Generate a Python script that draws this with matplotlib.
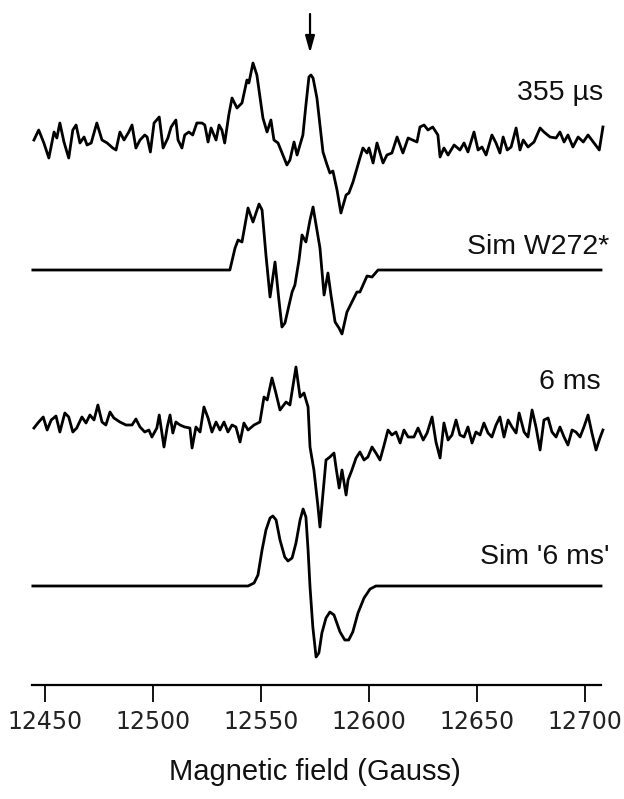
import matplotlib
matplotlib.use("Agg")
import matplotlib.pyplot as plt

# --- data (field in Gauss, intensity in arbitrary units) ---
field_355us = [12444.9, 12447.1, 12449.5, 12451.8, 12454.2, 12455.5, 12456.9, 12458.8, 12461.0, 12462.9,
               12464.4, 12466.2, 12468.1, 12469.5, 12471.4, 12474.0, 12476.4, 12478.8, 12481.4, 12482.9,
               12484.7, 12486.6, 12488.8, 12490.3, 12492.1, 12494.0, 12496.2, 12497.3, 12498.8, 12500.5,
               12502.9, 12504.7, 12506.9, 12508.4, 12510.6, 12511.6, 12513.4, 12514.7, 12516.6, 12518.4,
               12520.3, 12522.7, 12524.0, 12525.5, 12526.9, 12529.2, 12530.6, 12531.9, 12533.2, 12535.1,
               12536.6, 12538.9, 12541.2, 12543.5, 12544.4, 12546.3, 12548.1, 12550.9, 12552.8, 12554.6,
               12556.0, 12557.9, 12562.0, 12563.4, 12565.3, 12566.7, 12569.4, 12570.8, 12572.2, 12573.1,
               12574.1, 12575.9, 12577.3, 12578.7, 12580.6, 12581.9, 12583.3, 12585.2, 12587.0, 12589.4,
               12590.7, 12592.6, 12595.8, 12597.2, 12599.1, 12600.0, 12601.9, 12603.7, 12606.5, 12608.3,
               12610.6, 12613.0, 12615.7, 12618.1, 12622.2, 12623.6, 12625.5, 12627.3, 12629.5, 12631.9,
               12632.9, 12634.7, 12636.6, 12639.4, 12642.1, 12644.0, 12645.8, 12648.6, 12650.5, 12652.3,
               12654.2, 12656.9, 12658.8, 12660.6, 12662.1, 12664.0, 12665.8, 12668.1, 12669.9, 12671.4,
               12673.6, 12676.4, 12679.2, 12681.0, 12683.8, 12686.6, 12688.4, 12690.3, 12692.1, 12694.4,
               12696.8, 12699.2, 12701.4, 12704.2, 12706.6, 12708.3]
signal_355us = [0, 10, -3, -18, 8, 2, 17, -2, -18, 10,
                15, -3, 3, -5, -3, 17, 0, -3, -8, -10,
                8, 0, 8, 15, -8, 0, 5, 3, -12, 17,
                23, -8, 2, 13, 20, 0, -8, 5, 8, 5,
                17, 17, 15, -2, 12, 0, 15, 10, -3, 25,
                42, 32, 37, 60, 57, 77, 65, 22, 8, 20,
                0, -3, -25, -20, -2, -15, 5, 35, 63, 65,
                62, 42, 15, -12, -25, -33, -31, -50, -73, -55,
                -53, -42, -18, -8, -13, -8, -23, -3, -23, -15,
                -13, 3, -13, 2, -2, 13, 15, 10, 13, 5,
                -17, -8, -15, -5, -10, -3, -12, 8, -10, -7,
                -15, 5, -3, -13, 3, -10, -7, 12, -10, 0,
                -7, -2, 12, 8, 3, 2, 8, -2, 5, -7,
                3, -2, 5, -3, -10, 13]

field_sim_w272 = [12444.4, 12535.6, 12538.0, 12539.4, 12541.2, 12544.0, 12546.3, 12549.1, 12550.5, 12552.3,
                  12554.2, 12556.5, 12558.3, 12559.7, 12561.1, 12563.0, 12564.4, 12565.7, 12567.6, 12569.0,
                  12570.8, 12572.7, 12574.1, 12575.9, 12577.3, 12579.2, 12581.0, 12582.4, 12584.3, 12586.1,
                  12587.5, 12589.8, 12592.1, 12594.4, 12595.8, 12599.1, 12601.4, 12604.2, 12707.4]
signal_sim_w272 = [0, 0, 22, 30, 28, 62, 48, 66, 60, 15,
                   -27, 8, -30, -57, -53, -35, -22, -15, 10, 35,
                   28, 50, 63, 40, 22, -25, -3, -25, -52, -58,
                   -64, -42, -32, -22, -22, -6, -7, 0, 0]

field_6ms = [12444.9, 12447.1, 12449.2, 12451.0, 12452.9, 12455.1, 12456.9, 12459.2, 12461.0, 12462.9,
             12464.7, 12467.1, 12469.0, 12470.8, 12472.7, 12474.5, 12476.4, 12478.2, 12480.1, 12481.9,
             12484.7, 12487.5, 12490.3, 12492.1, 12494.0, 12496.2, 12498.1, 12499.5, 12501.8, 12502.9,
             12505.1, 12506.6, 12507.9, 12509.2, 12510.6, 12512.5, 12514.7, 12517.1, 12518.1, 12519.9,
             12521.8, 12523.6, 12525.5, 12527.3, 12529.2, 12531.0, 12532.9, 12534.7, 12536.6, 12538.4,
             12540.3, 12542.1, 12544.0, 12546.8, 12549.5, 12551.4, 12552.9, 12555.1, 12556.9, 12558.8,
             12561.6, 12563.4, 12566.2, 12568.1, 12569.9, 12571.8, 12572.7, 12574.5, 12576.4, 12577.3,
             12580.1, 12581.9, 12583.8, 12584.7, 12586.2, 12587.5, 12589.4, 12590.3, 12592.1, 12594.0,
             12595.8, 12597.7, 12599.5, 12601.4, 12603.2, 12605.1, 12607.0, 12608.8, 12610.6, 12612.5,
             12614.4, 12616.2, 12618.1, 12620.8, 12622.7, 12625.1, 12626.9, 12629.2, 12631.0, 12632.9,
             12634.7, 12636.6, 12638.4, 12640.3, 12642.1, 12644.0, 12645.8, 12647.7, 12649.5, 12651.4,
             12653.2, 12655.1, 12656.9, 12658.8, 12660.6, 12662.5, 12664.4, 12666.2, 12668.1, 12669.5,
             12671.8, 12673.6, 12675.5, 12677.3, 12679.2, 12681.0, 12682.9, 12684.7, 12686.6, 12688.4,
             12690.3, 12692.1, 12694.0, 12695.8, 12697.7, 12699.5, 12701.4, 12703.2, 12705.1, 12706.9,
             12708.3]
signal_6ms = [2, 8, 13, 0, 10, 14, -2, 17, 13, -2,
              2, 13, 7, 15, 10, 25, 8, 5, 18, 12,
              8, 5, 5, 11, 3, -2, 0, -7, 2, 15,
              -17, 3, 15, -3, 8, 5, 3, 2, -18, 3,
              -2, 23, 12, -2, 8, 0, 8, -2, 5, 3,
              -12, 7, 0, 5, 8, 33, 30, 52, 37, 20,
              28, 25, 63, 33, 37, 23, -17, -40, -77, -97,
              -30, -27, -23, -37, -58, -40, -65, -50, -40, -28,
              -22, -30, -27, -17, -23, -30, -15, 0, -5, -2,
              -13, 0, -7, -7, 2, -10, -3, 13, -12, -28,
              7, -10, -5, 10, -5, -7, 3, -13, -2, -5,
              7, -3, -7, 5, 13, -7, 10, 3, -3, 17,
              -2, -7, 20, 3, -20, 10, 12, -2, -7, 3,
              -7, -15, 0, -2, -7, 3, 15, -3, -20, -8,
              0]

field_sim_6ms = [12444.4, 12544.0, 12546.8, 12548.6, 12550.5, 12552.3, 12554.2, 12555.5, 12557.0, 12558.8,
                 12561.0, 12562.5, 12564.4, 12566.2, 12568.1, 12569.5, 12570.8, 12571.8, 12572.7, 12574.0,
                 12575.5, 12576.8, 12578.2, 12580.1, 12581.9, 12583.8, 12586.6, 12588.8, 12590.6, 12592.5,
                 12594.9, 12597.7, 12600.5, 12603.2, 12707.4]
signal_sim_6ms = [0, 0, 3, 11, 36, 56, 68, 70, 66, 46,
                  29, 25, 28, 43, 66, 77, 69, 36, -1, -41,
                  -71, -67, -47, -32, -26, -29, -46, -54, -54, -46,
                  -27, -12, -3, 0, 0]

traces = [
    (field_355us, signal_355us, 545),
    (field_sim_w272, signal_sim_w272, 415),
    (field_6ms, signal_6ms, 255),
    (field_sim_6ms, signal_sim_6ms, 99),
]
labels = ["355 µs", "Sim W272*", "6 ms", "Sim '6 ms'"]
label_pos = [(603, 93), (609, 247), (601, 382), (609, 557)]  # pixel positions
xticks = [12450, 12500, 12550, 12600, 12650, 12700]
arrow_field = 12572.7


def main():
    W, H = 624, 799
    fig = plt.figure(figsize=(W / 100, H / 100), dpi=100)
    ax = fig.add_axes([32 / W, 114 / H, (601 - 32) / W, 685 / H])

    for fld, sig, base in traces:
        ax.plot(fld, [s + base for s in sig], color="black", lw=2.0,
                solid_joinstyle="round", clip_on=False)

    ax.annotate("", xy=(arrow_field, 632), xytext=(arrow_field, 671),
                arrowprops=dict(arrowstyle="-|>,head_length=1.0,head_width=0.28",
                                color="black", lw=1.6, shrinkA=0, shrinkB=0),
                annotation_clip=False)

    ax.set_xlim(12444.0, 12707.4)
    ax.set_ylim(0, 685)
    for side in ["left", "right", "top"]:
        ax.spines[side].set_visible(False)
    ax.spines["bottom"].set_linewidth(1.6)
    ax.set_yticks([])
    ax.set_xticks(xticks)
    ax.tick_params(axis="x", direction="out", length=12, width=1.3, pad=6,
                   labelsize=17, colors="black")
    for t in ax.get_xticklabels():
        t.set_fontfamily("DejaVu Sans")
        t.set_color("#222222")

    for txt, (px, py) in zip(labels, label_pos):
        fig.text(px / W, 1 - py / H, txt, ha="right", va="center",
                 fontsize=20.5, family="Liberation Sans", color="#111111")

    fig.text(315 / W, 1 - 772 / H, "Magnetic field (Gauss)", ha="center", va="center",
             fontsize=21, family="Liberation Sans", color="#111111")

    fig.savefig("out.png", dpi=100)
    plt.close(fig)


if __name__ == "__main__":
    main()
